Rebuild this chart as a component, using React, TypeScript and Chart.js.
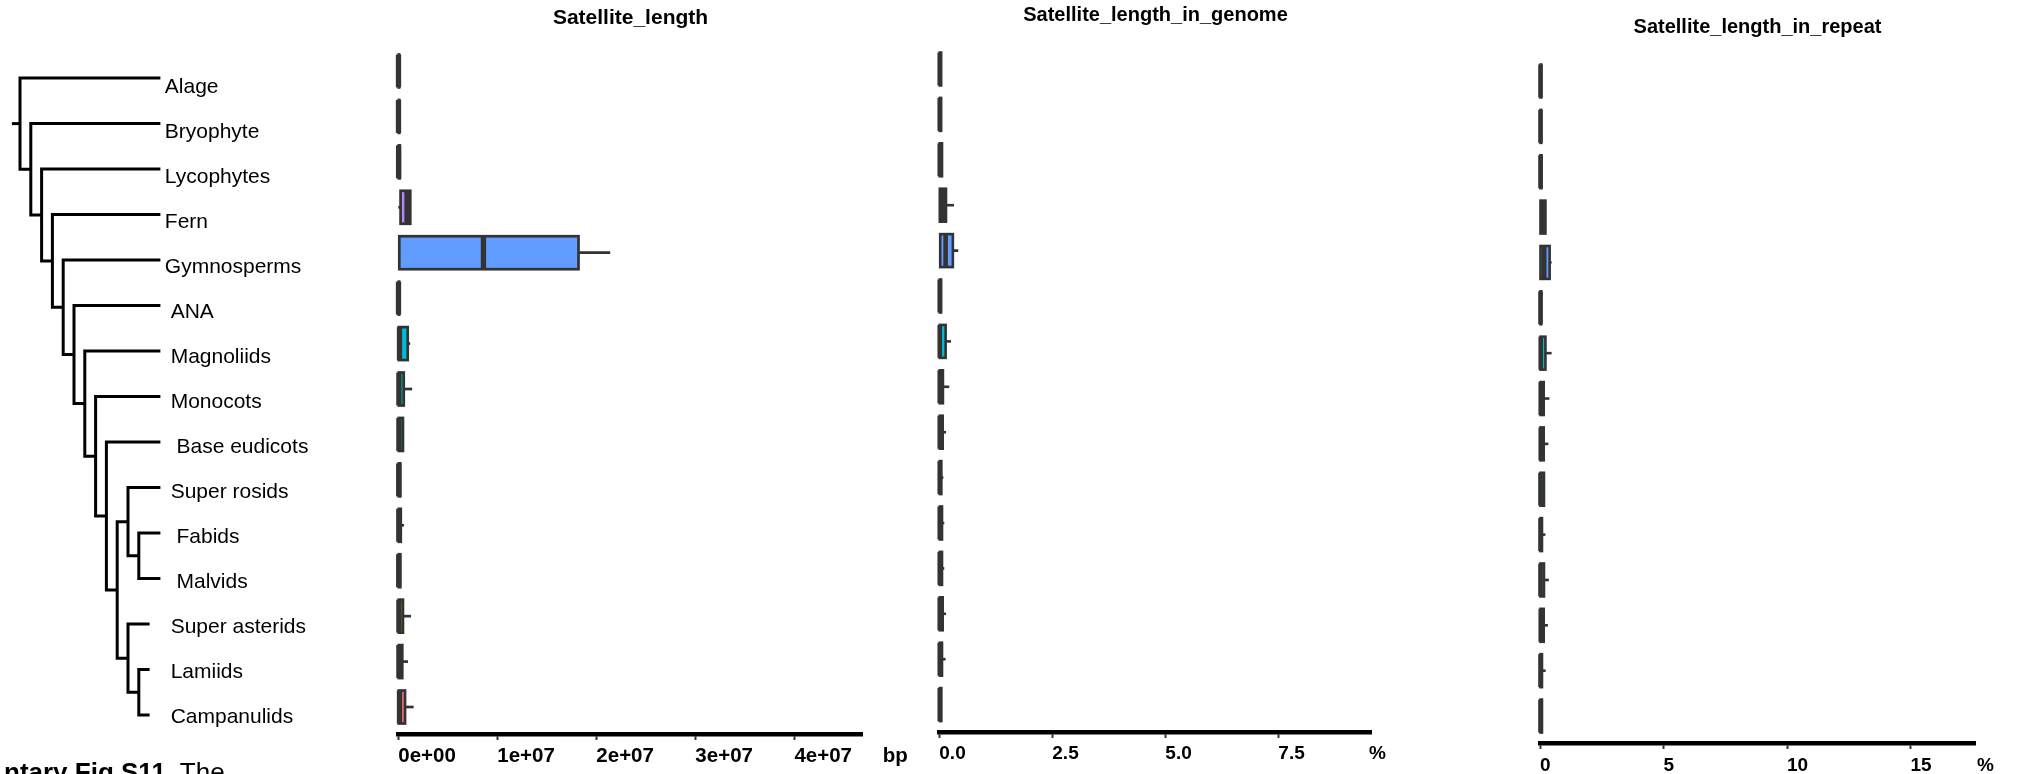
import React, { useEffect, useRef } from "react";
import { Chart, registerables } from "chart.js";

Chart.register(...registerables);

const FONT = "'Liberation Sans', Arial, Helvetica, sans-serif";
const INK = "#000000";
const BOX_INK = "#333333";
const PAGE_W = 2038;
const PAGE_H = 774;

// Clades, listed top to bottom
const CLADES = [
  "Alage", "Bryophyte", "Lycophytes", "Fern", "Gymnosperms", "ANA", "Magnoliids",
  "Monocots", "Base eudicots", "Super rosids", "Fabids", "Malvids",
  "Super asterids", "Lamiids", "Campanulids",
];

// Tip labels as typeset next to the tree
const TIP_LABELS = [
  "Alage", "Bryophyte", "Lycophytes", "Fern", "Gymnosperms", " ANA", " Magnoliids",
  " Monocots", "  Base eudicots", " Super rosids", "  Fabids", "  Malvids",
  " Super asterids", " Lamiids", " Campanulids",
];

// Fill colour of each clade's box
const CLADE_COLORS = [
  "#FF67A4", "#FD61D1", "#E76BF3", "#B983FF", "#619CFF", "#00B0F6", "#00BCD8",
  "#00C0AF", "#00BF7D", "#00BA38", "#6BB100", "#A3A500", "#C99800", "#E58700", "#F8766D",
];

// Satellite_length (bp)
const LEN_MIN = [0, 0, 0, 0, 0, 0, 0, 0, 0, 0, 0, 0, 0, 0, 0];
const LEN_Q1 = [0, 0, 0, 230000, 100000, 0, 50000, 0, 0, 0, 0, 0, 0, 0, 50000];
const LEN_MED = [20000, 20000, 30000, 880000, 8600000, 20000, 120000, 60000, 60000, 40000, 50000, 40000, 60000, 60000, 120000];
const LEN_Q3 = [80000, 100000, 150000, 1210000, 18200000, 80000, 950000, 550000, 470000, 200000, 250000, 200000, 470000, 400000, 680000];
const LEN_MAX = [80000, 100000, 150000, 1250000, 21400000, 80000, 1200000, 1400000, 550000, 200000, 580000, 200000, 1280000, 980000, 1550000];
const LEN_TICKS = [0, 1e7, 2e7, 3e7, 4e7];
const LEN_TICK_LABELS = ["0e+00", "1e+07", "2e+07", "3e+07", "4e+07"];

// Satellite_length_in_genome (%)
const GEN_MIN = [0, 0, 0, 0, 0, 0, 0, 0, 0, 0, 0, 0, 0, 0, 0];
const GEN_Q1 = [0, 0, 0, 0, 0.02, 0, 0, 0, 0, 0, 0, 0, 0, 0, 0];
const GEN_MED = [0.01, 0.01, 0.01, 0.08, 0.14, 0.01, 0.01, 0.01, 0.01, 0.01, 0.01, 0.01, 0.01, 0.01, 0.01];
const GEN_Q3 = [0.04, 0.04, 0.06, 0.148, 0.3, 0.04, 0.14, 0.08, 0.075, 0.045, 0.06, 0.06, 0.075, 0.06, 0.045];
const GEN_MAX = [0.04, 0.04, 0.06, 0.325, 0.42, 0.04, 0.26, 0.22, 0.15, 0.09, 0.11, 0.11, 0.15, 0.14, 0.045];
const GEN_TICKS = [0, 2.5, 5, 7.5];
const GEN_TICK_LABELS = ["0.0", "2.5", "5.0", "7.5"];

// Satellite_length_in_repeat (%)
const REP_MIN = [0, 0, 0, 0, 0, 0, 0, 0, 0, 0, 0, 0, 0, 0, 0];
const REP_Q1 = [0, 0, 0, 0, 0, 0, 0, 0, 0, 0, 0, 0, 0, 0, 0];
const REP_MED = [0.02, 0.02, 0.02, 0.1, 0.17, 0.02, 0.03, 0.03, 0.03, 0.02, 0.02, 0.02, 0.03, 0.02, 0.02];
const REP_Q3 = [0.05, 0.05, 0.06, 0.22, 0.39, 0.05, 0.22, 0.15, 0.15, 0.16, 0.08, 0.16, 0.15, 0.08, 0.08];
const REP_MAX = [0.05, 0.05, 0.06, 0.22, 0.47, 0.05, 0.47, 0.38, 0.34, 0.16, 0.22, 0.36, 0.32, 0.23, 0.08];
const REP_TICKS = [0, 5, 10, 15];
const REP_TICK_LABELS = ["0", "5", "10", "15"];

// Cladogram, branch lengths in steps
type TreeNode = { name?: string; len: number; children?: TreeNode[] };
const leaf = (name: string, len: number): TreeNode => ({ name, len });
const clade = (len: number, ...children: TreeNode[]): TreeNode => ({ len, children });
const ROOT_EDGE = 0.75;
const PHYLOGENY = clade(0,
  leaf("Alage", 13),
  clade(1,
    leaf("Bryophyte", 12),
    clade(1,
      leaf("Lycophytes", 11),
      clade(1,
        leaf("Fern", 10),
        clade(1,
          leaf("Gymnosperms", 9),
          clade(1,
            leaf("ANA", 8),
            clade(1,
              leaf("Magnoliids", 7),
              clade(1,
                leaf("Monocots", 6),
                clade(1,
                  leaf("Base eudicots", 5),
                  clade(1,
                    clade(1, leaf("Super rosids", 3), clade(1, leaf("Fabids", 2), leaf("Malvids", 2))),
                    clade(1, leaf("Super asterids", 2), clade(1, leaf("Lamiids", 1), leaf("Campanulids", 1)))
                  )
                )
              )
            )
          )
        )
      )
    )
  )
);

// value range of a hidden linear axis so that value 0 lands on pixel p0 and 1 unit = step px
function rangeFor(p0: number, step: number, areaStart: number, areaLen: number) {
  const min = -(p0 - areaStart) / step;
  return { min, max: min + areaLen / step };
}

type Pt = { x: number; y: number };
type Placed = { depth: number; y: number; kids: Placed[] };

function placeTree(node: TreeNode, parentDepth: number, counter: { i: number }): Placed {
  const depth = parentDepth + node.len;
  if (!node.children) return { depth, y: counter.i++, kids: [] };
  const kids = node.children.map((c) => placeTree(c, depth, counter));
  return { depth, y: (kids[0].y + kids[kids.length - 1].y) / 2, kids };
}

function treeSegments(p: Placed, out: Pt[][]) {
  if (!p.kids.length) return;
  const first = p.kids[0];
  const last = p.kids[p.kids.length - 1];
  out.push([
    { x: first.depth, y: first.y },
    { x: p.depth, y: first.y },
    { x: p.depth, y: last.y },
    { x: last.depth, y: last.y },
  ]);
  p.kids.slice(1, -1).forEach((k) => out.push([{ x: p.depth, y: k.y }, { x: k.depth, y: k.y }]));
  p.kids.forEach((k) => treeSegments(k, out));
}

function maxTipDepth(p: Placed): number {
  return p.kids.length ? Math.max(...p.kids.map(maxTipDepth)) : p.depth;
}

function TreeChart() {
  const ref = useRef<HTMLCanvasElement>(null);
  const W = 340;
  const H = PAGE_H;
  const PAD = 2;

  useEffect(() => {
    const root = placeTree(PHYLOGENY, 0, { i: 0 });
    const segs: Pt[][] = [[{ x: -ROOT_EDGE, y: root.y }, { x: 0, y: root.y }]];
    treeSegments(root, segs);
    const tipDepth = maxTipDepth(root);

    const tipLabels = {
      id: "tipLabels",
      afterDraw(chart: any) {
        const { ctx } = chart;
        const xs = chart.scales.x;
        const yl = chart.scales.yl;
        ctx.save();
        ctx.font = `21px ${FONT}`;
        ctx.fillStyle = INK;
        ctx.textAlign = "left";
        ctx.textBaseline = "middle";
        TIP_LABELS.forEach((t, i) => {
          ctx.fillText(t, xs.getPixelForValue(tipDepth) + 4.4, yl.getPixelForValue(i));
        });
        ctx.restore();
      },
    };

    const chart = new Chart(ref.current as HTMLCanvasElement, {
      type: "line",
      data: {
        datasets: segs.map((s) => ({
          data: s,
          borderColor: INK,
          borderWidth: 3,
          pointRadius: 0,
          tension: 0,
          fill: false,
          borderJoinStyle: "miter",
          borderCapStyle: "butt",
          clip: false,
        })) as any,
      },
      options: {
        animation: false,
        responsive: false,
        events: [],
        layout: { padding: PAD },
        plugins: { legend: { display: false }, tooltip: { enabled: false }, title: { display: false } },
        scales: {
          x: { type: "linear", display: false, offset: false, ...rangeFor(20, 10.8, PAD, W - 2 * PAD) },
          y: { type: "linear", display: false, offset: false, reverse: true, ...rangeFor(78, 45.5, PAD, H - 2 * PAD) },
          yl: { type: "linear", display: false, offset: false, reverse: true, ...rangeFor(86.8, 45.06, PAD, H - 2 * PAD) },
        },
      } as any,
      plugins: [tipLabels],
    });
    return () => chart.destroy();
  }, []);

  return (
    <canvas
      ref={ref}
      width={W}
      height={H}
      style={{ position: "absolute", left: 0, top: 0, width: W, height: H }}
    />
  );
}

type PanelSpec = {
  title: string;
  min: number[];
  q1: number[];
  med: number[];
  q3: number[];
  max: number[];
  ticks: number[];
  tickLabels: string[];
  unit: string;
  xMax: number;
  canvasLeft: number;
  canvasWidth: number;
  axisLeft: number;
  axisRight: number;
  chartTop: number;
  chartBottom: number;
  rowFirst: number;
  rowStep: number;
  titleSize: number;
  titleMid: number;
  tickSize: number;
  tickPad: number;
  unitOffset: number;
  boxLine: number;
  medLine: number;
};

const PANELS: PanelSpec[] = [
  {
    title: "Satellite_length",
    min: LEN_MIN, q1: LEN_Q1, med: LEN_MED, q3: LEN_Q3, max: LEN_MAX,
    ticks: LEN_TICKS, tickLabels: LEN_TICK_LABELS, unit: "bp", xMax: 4.69e7,
    canvasLeft: 340, canvasWidth: 600, axisLeft: 398.3, axisRight: 862.7,
    chartTop: 40, chartBottom: 734, rowFirst: 71, rowStep: 45.43,
    titleSize: 21, titleMid: 18.7, tickSize: 20.5, tickPad: 4, unitOffset: 20,
    boxLine: 2.7, medLine: 5.3,
  },
  {
    title: "Satellite_length_in_genome",
    min: GEN_MIN, q1: GEN_Q1, med: GEN_MED, q3: GEN_Q3, max: GEN_MAX,
    ticks: GEN_TICKS, tickLabels: GEN_TICK_LABELS, unit: "%", xMax: 9.566,
    canvasLeft: 880, canvasWidth: 600, axisLeft: 939.3, axisRight: 1371.7,
    chartTop: 40, chartBottom: 732, rowFirst: 69, rowStep: 45.4,
    titleSize: 20, titleMid: 15.4, tickSize: 19, tickPad: 4.4, unitOffset: -2.7,
    boxLine: 2.6, medLine: 4.6,
  },
  {
    title: "Satellite_length_in_repeat",
    min: REP_MIN, q1: REP_Q1, med: REP_MED, q3: REP_Q3, max: REP_MAX,
    ticks: REP_TICKS, tickLabels: REP_TICK_LABELS, unit: "%", xMax: 17.61,
    canvasLeft: 1480, canvasWidth: 558, axisLeft: 1540, axisRight: 1975,
    chartTop: 50, chartBottom: 743, rowFirst: 81, rowStep: 45.36,
    titleSize: 20, titleMid: 27.7, tickSize: 19, tickPad: 5.1, unitOffset: 2,
    boxLine: 2.6, medLine: 4.6,
  },
];

const TICK_LEN = 6;

function BoxPanel({ spec }: { spec: PanelSpec }) {
  const ref = useRef<HTMLCanvasElement>(null);
  const H = PAGE_H;

  useEffect(() => {
    const s = spec;
    const padLeft = s.axisLeft - s.canvasLeft;
    const padRight = s.canvasLeft + s.canvasWidth - s.axisRight;
    const titleLH = s.titleSize * 1.2;
    const titlePadTop = s.titleMid - titleLH / 2;
    const titlePadBottom = s.chartTop - titlePadTop - titleLH;
    const axisHeight = H - s.chartBottom;

    // outlines, medians and whiskers over the floating-bar boxes
    const boxDetail = {
      id: "boxDetail",
      afterDatasetsDraw(chart: any) {
        const { ctx } = chart;
        const xs = chart.scales.x;
        const meta = chart.getDatasetMeta(0);
        ctx.save();
        ctx.strokeStyle = BOX_INK;
        ctx.lineCap = "butt";
        ctx.lineJoin = "miter";
        meta.data.forEach((bar: any, i: number) => {
          const { x, base, y, height } = bar.getProps(["x", "base", "y", "height"], true);
          const left = Math.min(x, base);
          const right = Math.max(x, base);
          const top = y - height / 2;
          ctx.lineWidth = s.boxLine;
          ctx.beginPath();
          const pMax = xs.getPixelForValue(s.max[i]);
          const pMin = xs.getPixelForValue(s.min[i]);
          if (pMax > right + 0.5) {
            ctx.moveTo(right, y);
            ctx.lineTo(pMax, y);
          }
          if (pMin < left - 0.5) {
            ctx.moveTo(pMin, y);
            ctx.lineTo(left, y);
          }
          ctx.stroke();
          ctx.strokeRect(left, top, right - left, height);
          const m = xs.getPixelForValue(s.med[i]);
          ctx.lineWidth = s.medLine;
          ctx.beginPath();
          ctx.moveTo(m, top);
          ctx.lineTo(m, top + height);
          ctx.stroke();
        });
        ctx.restore();
      },
      afterDraw(chart: any) {
        const { ctx } = chart;
        const xs = chart.scales.x;
        ctx.save();
        ctx.font = `bold ${s.tickSize}px ${FONT}`;
        ctx.fillStyle = INK;
        ctx.textAlign = "left";
        ctx.textBaseline = "middle";
        ctx.fillText(s.unit, xs.right + s.unitOffset, xs.top + TICK_LEN + s.tickPad + (s.tickSize * 1.2) / 2);
        ctx.restore();
      },
    };

    const chart = new Chart(ref.current as HTMLCanvasElement, {
      type: "bar",
      data: {
        datasets: [
          {
            data: CLADES.map((_, i) => ({ y: i, x: [s.q1[i], s.q3[i]] })),
            backgroundColor: CLADE_COLORS,
            borderWidth: 0,
            barPercentage: 0.726,
            categoryPercentage: 1,
          },
        ] as any,
      },
      options: {
        indexAxis: "y",
        animation: false,
        responsive: false,
        events: [],
        layout: { padding: { left: padLeft, right: padRight, top: 0, bottom: 0 } },
        plugins: {
          legend: { display: false },
          tooltip: { enabled: false },
          title: {
            display: true,
            text: s.title,
            color: INK,
            font: { family: FONT, size: s.titleSize, weight: "bold", lineHeight: 1.2 },
            padding: { top: titlePadTop, bottom: titlePadBottom },
          },
        },
        scales: {
          y: {
            type: "linear",
            display: false,
            offset: false,
            reverse: true,
            grid: { offset: false },
            ...rangeFor(s.rowFirst, s.rowStep, s.chartTop, s.chartBottom - s.chartTop),
            // one tick per clade row, so bar thickness follows the row spacing
            afterBuildTicks: (axis: any) => {
              axis.ticks = CLADES.map((_, i) => ({ value: i }));
            },
          },
          x: {
            type: "linear",
            position: "bottom",
            min: 0,
            max: s.xMax,
            offset: false,
            afterBuildTicks: (axis: any) => {
              axis.ticks = s.ticks.map((v) => ({ value: v }));
            },
            afterFit: (axis: any) => {
              axis.height = axisHeight;
            },
            border: { display: true, color: INK, width: 4.4 },
            grid: {
              display: true,
              drawOnChartArea: false,
              drawTicks: true,
              tickLength: TICK_LEN,
              tickWidth: 2,
              tickColor: BOX_INK,
            },
            ticks: {
              align: "start",
              padding: s.tickPad,
              autoSkip: false,
              maxRotation: 0,
              minRotation: 0,
              color: INK,
              font: { family: FONT, size: s.tickSize, weight: "bold", lineHeight: 1.2 },
              callback: (_v: any, idx: number) => s.tickLabels[idx],
            },
          },
        },
      } as any,
      plugins: [boxDetail],
    });
    return () => chart.destroy();
  }, [spec]);

  return (
    <canvas
      ref={ref}
      width={spec.canvasWidth}
      height={H}
      style={{ position: "absolute", left: spec.canvasLeft, top: 0, width: spec.canvasWidth, height: H }}
    />
  );
}

export default function App() {
  return (
    <div
      style={{
        position: "absolute",
        left: 0,
        top: 0,
        width: PAGE_W,
        height: PAGE_H,
        overflow: "hidden",
        background: "#ffffff",
        fontFamily: FONT,
      }}
    >
      <TreeChart />
      {PANELS.map((p) => (
        <BoxPanel key={p.title} spec={p} />
      ))}
      <div
        style={{
          position: "absolute",
          left: 4,
          top: 758.5,
          fontFamily: FONT,
          fontSize: 26,
          lineHeight: "26px",
          whiteSpace: "pre",
          color: INK,
        }}
      >
        <b>ntary Fig S11.</b> The
      </div>
    </div>
  );
}
